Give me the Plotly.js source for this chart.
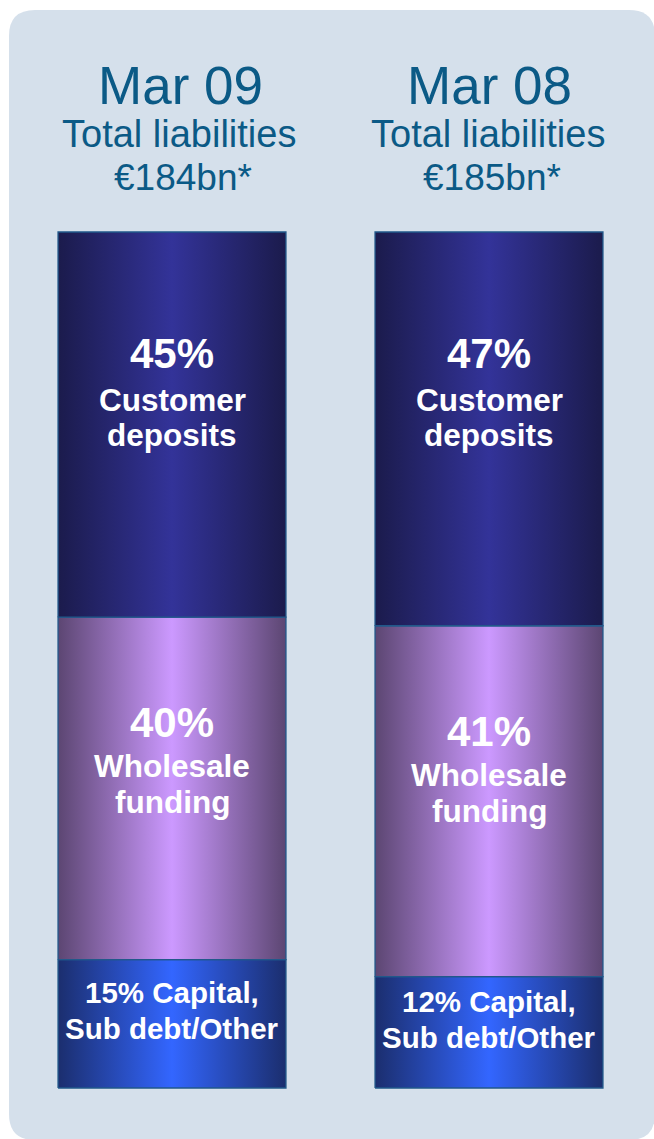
<!DOCTYPE html>
<html>
<head>
<meta charset="utf-8">
<script src="https://cdn.plot.ly/plotly-3.0.1.min.js"></script>
<style>
  html, body { margin: 0; padding: 0; background: #ffffff; }
  #chart { width: 654px; height: 1139px; }
</style>
</head>
<body>
<div id="chart"></div>
<script>
// ---------------- DATA ----------------
const periods = ['Mar 09', 'Mar 08'];
const totalLiabilities = ['€184bn*', '€185bn*'];
// segment shares (% of total liabilities), bottom to top
const capitalOther = [15, 13];
const wholesaleFunding = [40, 41];
const customerDeposits = [45, 46];
// printed labels
const capitalLabels = ['15% Capital,', '12% Capital,'];
const wholesaleLabels = ['40%', '41%'];
const customerLabels = ['45%', '47%'];
const capitalName = 'Sub debt/Other';
const wholesaleName = ['Wholesale', 'funding'];
const customerName = ['Customer', 'deposits'];

// ---------------- STYLE ----------------
const W = 654, H = 1139;
const FONT = 'Liberation Sans, Arial, Helvetica, sans-serif';
const headColor = '#0b5a86';
const panelColor = '#d5e0eb';
const outline = '#21588a';
const barWidth = 0.719;
const headShift = [8, 0];
const euroShift = [11, 3];

const seriesDefs = [
  { name: 'Capital, Sub debt/Other', vals: capitalOther,
    scale: [[0, '#1b2e6e'], [0.5, '#3366ff'], [1, '#1b2e6e']] },
  { name: 'Wholesale funding', vals: wholesaleFunding,
    scale: [[0, '#5c4672'], [0.5, '#cc99ff'], [1, '#5c4672']] },
  { name: 'Customer deposits', vals: customerDeposits,
    scale: [[0, '#1b1b4c'], [0.5, '#333399'], [1, '#1b1b4c']] }
];

const traces = [];
const mids = seriesDefs.map(() => []);
const tops = seriesDefs.map(() => []);
periods.forEach((p, i) => {
  let base = 0;
  seriesDefs.forEach((s, k) => {
    const v = s.vals[i];
    const x0 = i - barWidth / 2, x1 = i + barWidth / 2;
    traces.push({
      type: 'scatter', mode: 'lines', name: s.name, showlegend: false,
      x: [x0, x1, x1, x0, x0],
      y: [base, base, base + v, base + v, base],
      fill: 'toself',
      fillgradient: { type: 'horizontal', colorscale: s.scale, start: x0, stop: x1 },
      line: { color: outline, width: 1.3 },
      hoverinfo: 'skip'
    });
    mids[k].push(base + v / 2);
    tops[k].push(base + v);
    base += v;
  });
});

// ---------------- ANNOTATIONS ----------------
const ann = [];
const py = px => 1 - px / H;
// single text line whose baseline sits `off` px below data point y
function line(i, y, off, text, size) {
  ann.push({ x: i, y: y, xref: 'x', yref: 'y', showarrow: false, yanchor: 'middle',
    yshift: -(off - 0.3465 * size), text: text,
    font: { family: FONT, size: size, color: '#ffffff', weight: 'bold' } });
}
periods.forEach((p, i) => {
  ann.push({ x: i, xref: 'x', y: py(85.6), yref: 'paper', text: p, showarrow: false,
    xshift: headShift[i], yanchor: 'middle', font: { family: FONT, size: 53, color: headColor } });
  ann.push({ x: i, xref: 'x', y: py(134.2), yref: 'paper', text: 'Total liabilities', showarrow: false,
    xshift: headShift[i] - 1, yanchor: 'middle', font: { family: FONT, size: 38, color: headColor } });
  ann.push({ x: i, xref: 'x', y: py(177.2), yref: 'paper', text: totalLiabilities[i], showarrow: false,
    xshift: euroShift[i], yanchor: 'middle', font: { family: FONT, size: 37, color: headColor } });

  // customer deposits (anchored at segment top)
  line(i, tops[2][i], 136, customerLabels[i], 42);
  line(i, tops[2][i], 179, customerName[0], 31.5);
  line(i, tops[2][i], 214, customerName[1], 31.5);
  // wholesale funding (anchored at segment top)
  line(i, tops[1][i], 120, wholesaleLabels[i], 42);
  line(i, tops[1][i], 160, wholesaleName[0], 31.5);
  line(i, tops[1][i], 196, wholesaleName[1], 31.5);
  // capital (anchored at segment middle)
  line(i, mids[0][i], -21, capitalLabels[i], 29.5);
  line(i, mids[0][i], 15, capitalName, 29.5);
});

// rounded panel (pixel -> paper)
function roundRect(x0, y0, x1, y1, r) {
  const X = v => (v / W).toFixed(5), Y = v => (1 - v / H).toFixed(5);
  return 'M' + X(x0 + r) + ',' + Y(y0) +
    ' L' + X(x1 - r) + ',' + Y(y0) + ' Q' + X(x1) + ',' + Y(y0) + ' ' + X(x1) + ',' + Y(y0 + r) +
    ' L' + X(x1) + ',' + Y(y1 - r) + ' Q' + X(x1) + ',' + Y(y1) + ' ' + X(x1 - r) + ',' + Y(y1) +
    ' L' + X(x0 + r) + ',' + Y(y1) + ' Q' + X(x0) + ',' + Y(y1) + ' ' + X(x0) + ',' + Y(y1 - r) +
    ' L' + X(x0) + ',' + Y(y0 + r) + ' Q' + X(x0) + ',' + Y(y0) + ' ' + X(x0 + r) + ',' + Y(y0) + ' Z';
}

const layout = {
  width: W, height: H,
  margin: { l: 0, r: 0, t: 0, b: 0, pad: 0 },
  paper_bgcolor: '#ffffff',
  plot_bgcolor: 'rgba(0,0,0,0)',
  showlegend: false,
  xaxis: { range: [-172 / 317, (W - 172) / 317], visible: false, fixedrange: true },
  yaxis: { range: [-(H - 1088) / 8.56, 100 + 232 / 8.56], visible: false, fixedrange: true },
  shapes: [{ type: 'path', xref: 'paper', yref: 'paper', layer: 'below',
    path: roundRect(9, 10, 655, 1140, 26), fillcolor: panelColor, line: { width: 0 } }],
  annotations: ann
};

Plotly.newPlot('chart', traces, layout, { displayModeBar: false, staticPlot: true });
</script>
</body>
</html>
